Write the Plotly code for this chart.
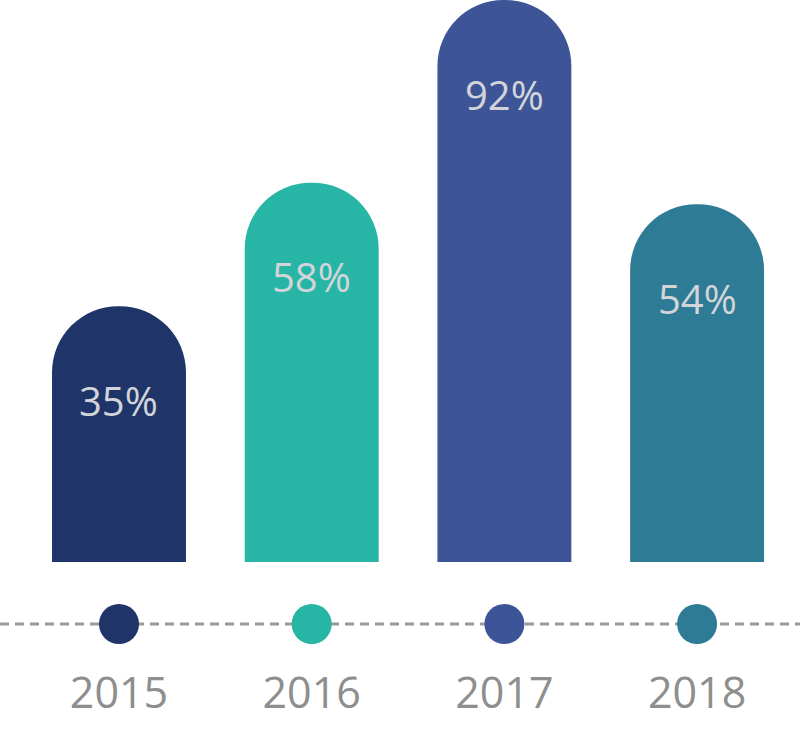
import plotly.graph_objects as go

# ---- data ----
years = ["2015", "2016", "2017", "2018"]
values = [35, 58, 92, 54]
colors = ["#1f3569", "#27b5a5", "#3d5597", "#2e7b95"]
pct_labels = [f"{v}%" for v in values]

# ---- layout constants ----
Y_MIN, Y_MAX = -12.6, 92
BAR_BASE = Y_MIN - 40  # extends below the visible domain so the bottom stays square
DOT_Y = 0.726
YEAR_Y = 0.225
FONT = "Open Sans"

x_idx = list(range(len(years)))

fig = go.Figure()

fig.add_trace(go.Bar(
    x=x_idx, y=[v - BAR_BASE for v in values], base=BAR_BASE,
    width=0.695,
    marker=dict(color=colors, cornerradius="50%", line_width=0),
    showlegend=False, hoverinfo="skip",
))

fig.add_trace(go.Scatter(
    x=x_idx, y=[DOT_Y] * len(years), mode="markers",
    marker=dict(size=40, color=colors, line_width=0),
    xaxis="x", yaxis="y2", showlegend=False, hoverinfo="skip",
))

fig.add_trace(go.Scatter(
    x=x_idx, y=[YEAR_Y] * len(years), mode="text", text=years,
    textposition="middle center",
    textfont=dict(family=FONT, size=43, color="#8e8e8e"),
    xaxis="x", yaxis="y2", showlegend=False, hoverinfo="skip",
))

fig.add_shape(type="line", xref="paper", x0=0, x1=1, yref="y2", y0=DOT_Y, y1=DOT_Y,
              line=dict(color="#9a9a9a", width=3, dash="9px,6px"), layer="below")

for i, (v, t) in enumerate(zip(values, pct_labels)):
    fig.add_annotation(x=i, y=v, xref="x", yref="y", yshift=-94, text=t,
                       showarrow=False, yanchor="middle",
                       font=dict(family=FONT, size=40, color="#d3d4da"))

fig.update_layout(
    width=800, height=730,
    margin=dict(l=0, r=0, t=0, b=0),
    paper_bgcolor="white", plot_bgcolor="rgba(0,0,0,0)",
    xaxis=dict(range=[-0.6175, 3.534], visible=False, fixedrange=True),
    yaxis=dict(domain=[0.2301, 1], range=[Y_MIN, Y_MAX], visible=False, fixedrange=True),
    yaxis2=dict(domain=[0, 0.2], range=[0, 1], visible=False, anchor="x", fixedrange=True),
    showlegend=False,
)

fig.write_html("out.html", config={"displayModeBar": False},
               post_script="document.body.style.margin='0';")
